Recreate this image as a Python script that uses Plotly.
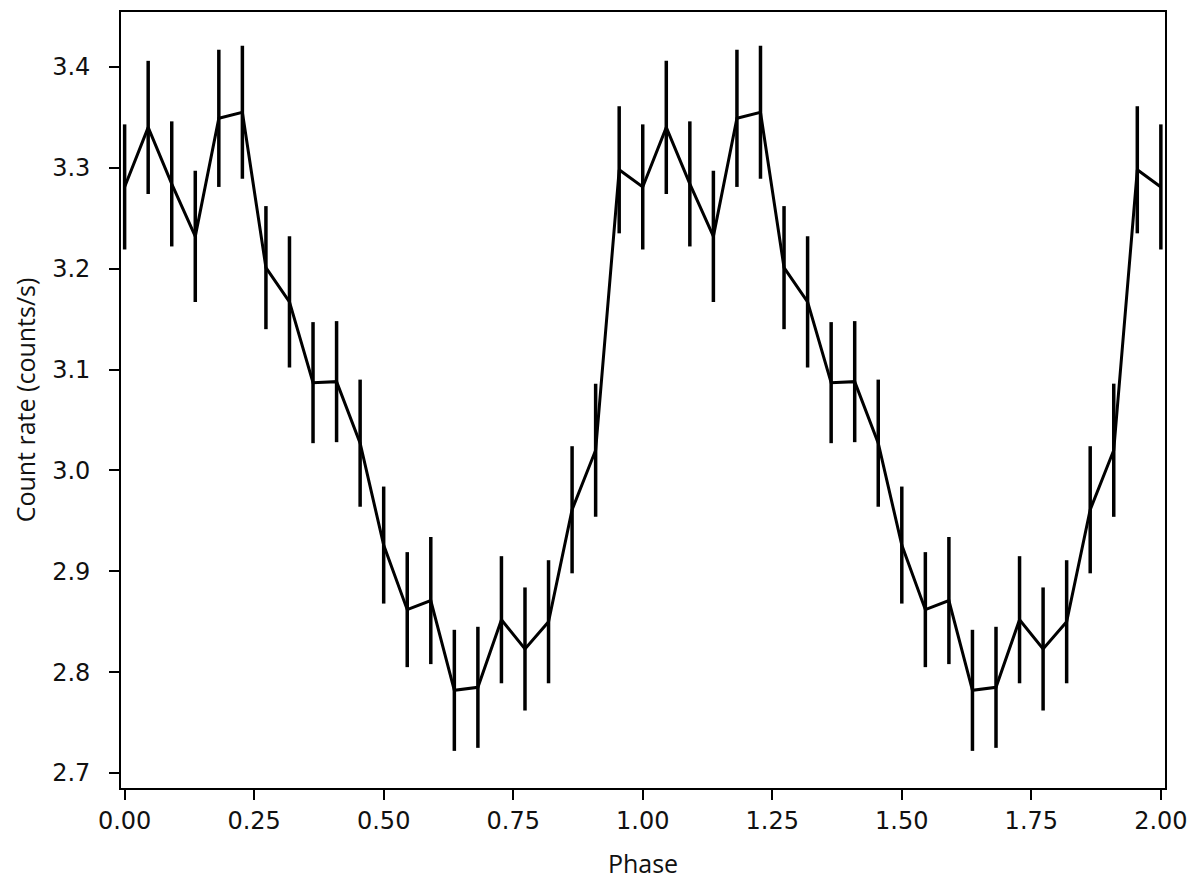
import plotly.graph_objects as go

# One cycle of folded light curve (22 phase bins), repeated for two cycles
phase_bins = [i / 22 for i in range(22)]
rates = [3.281, 3.340, 3.284, 3.232, 3.349, 3.355, 3.201, 3.167, 3.087, 3.088, 3.027,
         2.926, 2.862, 2.871, 2.782, 2.785, 2.852, 2.823, 2.850, 2.961, 3.020, 3.298]
errors = [0.062, 0.066, 0.062, 0.065, 0.068, 0.066, 0.061, 0.065, 0.060, 0.060, 0.063,
          0.058, 0.057, 0.063, 0.060, 0.060, 0.063, 0.061, 0.061, 0.063, 0.066, 0.063]

x_ticks = [0.0, 0.25, 0.5, 0.75, 1.0, 1.25, 1.5, 1.75, 2.0]
x_ticklabels = ["0.00", "0.25", "0.50", "0.75", "1.00", "1.25", "1.50", "1.75", "2.00"]
y_ticks = [2.7, 2.8, 2.9, 3.0, 3.1, 3.2, 3.3, 3.4]
y_ticklabels = ["2.7", "2.8", "2.9", "3.0", "3.1", "3.2", "3.3", "3.4"]

x = phase_bins + [p + 1 for p in phase_bins] + [2.0]
y = rates + rates + [rates[0]]
err = errors + errors + [errors[0]]

fig = go.Figure()
fig.add_trace(go.Scatter(
    x=x, y=y, mode="lines",
    line=dict(color="black", width=3),
    error_y=dict(type="data", array=err, visible=True, color="black",
                 thickness=3.5, width=0),
    showlegend=False,
))

tickfont = dict(family="DejaVu Sans", size=24, color="#111111")
titlefont = dict(family="Open Sans", size=25, color="#111111")
fig.update_layout(
    width=1192, height=875,
    margin=dict(l=113, r=35, t=2, b=95),
    plot_bgcolor="white", paper_bgcolor="white",
    xaxis=dict(
        range=[-0.007, 2.008], tickvals=x_ticks, ticktext=x_ticklabels,
        ticks="outside", ticklen=10, tickwidth=1.6, tickcolor="black",
        showline=True, linecolor="black", linewidth=1.6, mirror=True,
        showgrid=False, zeroline=False, tickfont=tickfont,
        title=dict(text="Phase", font=titlefont, standoff=22),
    ),
    yaxis=dict(
        range=[2.6852, 3.4544], tickvals=y_ticks, ticktext=y_ticklabels,
        ticks="outside", ticklen=10, tickwidth=1.6, tickcolor="black",
        showline=True, linecolor="black", linewidth=1.6, mirror=True,
        showgrid=False, zeroline=False, tickfont=tickfont, ticklabelstandoff=14,
        title=dict(text="Count rate (counts/s)", font=titlefont, standoff=16),
    ),
)

fig.write_html("out.html")
